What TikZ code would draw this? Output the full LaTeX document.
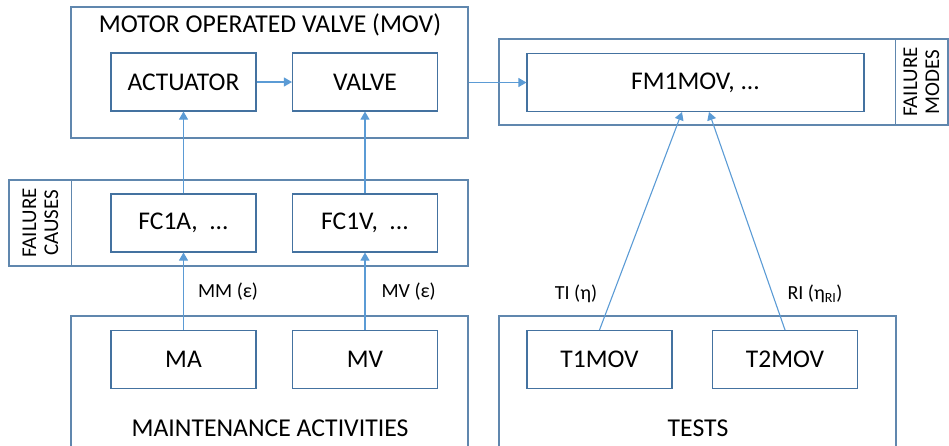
\documentclass[tikz,border=0pt]{standalone}
\usepackage{fontspec}
\setmainfont{Carlito}
\usetikzlibrary{arrows.meta,calc}
\definecolor{movframe}{RGB}{68,114,160}
\definecolor{movarrow}{RGB}{91,155,213}

\begin{document}
\begin{tikzpicture}[x=1pt,y=-1pt,
  blk/.style={draw=movframe,line width=1.1pt,minimum width=145pt,minimum height=58pt,inner sep=0pt,font=\fontsize{25.5}{28}\selectfont},
  frame/.style={draw=movframe!85,line width=1.1pt,inner sep=0pt},
  title/.style={font=\fontsize{25.7}{28}\selectfont,inner sep=0pt},
  lbl/.style={text=black,font=\fontsize{20}{22}\selectfont,inner sep=0pt},
  side/.style={font=\fontsize{21}{22}\selectfont,rotate=90,align=center,inner sep=0pt},
  link/.style={movarrow,line width=1.1pt,-{Triangle[length=8pt,width=9pt]}}]
  \clip (0,0) rectangle (949,445);
  % outer frames
  \node[frame,minimum width=397pt,minimum height=131pt] (mov) at (269.5,72.5) {};
  \node[frame,minimum width=459pt,minimum height=86pt] (fcframe) at (238.5,223) {};
  \node[frame,minimum width=449pt,minimum height=86pt] (fmframe) at (723.5,82) {};
  \node[frame,minimum width=397pt,minimum height=154pt] (maint) at (269.5,393) {};
  \node[frame,minimum width=397pt,minimum height=154pt] (tests) at (697.5,393) {};
  \draw[movframe!85,line width=1.1pt] ($(fcframe.north west)+(63,0)$) -- ($(fcframe.south west)+(63,0)$);
  \draw[movframe!85,line width=1.1pt] ($(fmframe.north east)+(-53,0)$) -- ($(fmframe.south east)+(-53,0)$);
  % frame titles
  \node[title] (movtitle) at (270,25) {MOTOR OPERATED VALVE (MOV)};
  \node[title] (mainttitle) at (270,428) {MAINTENANCE ACTIVITIES};
  \node[title] (teststitle) at (698,428) {TESTS};
  \node[side] (fcside) at (40.5,223) {FAILURE\\CAUSES};
  \node[side] (fmside) at (921.5,82) {FAILURE\\MODES};
  % blocks
  \node[blk] (act) at (183.5,82) {ACTUATOR};
  \node[blk] (valve) at (365,82) {VALVE};
  \node[blk,minimum width=337pt] (fm) at (695.5,82.5) {FM1MOV, ...};
  \node[blk] (fca) at (183.5,223) {FC1A,~ ...};
  \node[blk] (fcv) at (365,223) {FC1V,~ ...};
  \node[blk] (ma) at (183.5,359.5) {MA};
  \node[blk] (mv) at (365,359.5) {MV};
  \node[blk] (t1) at (599.5,359.5) {T1MOV};
  \node[blk] (t2) at (785,359.5) {T2MOV};
  \coordinate (fmin1) at ($(fm.south)+(-13.5,0)$);
  \coordinate (fmin2) at ($(fm.south)+(13.5,0)$);
  % connectors
  \draw[link] (act) -- (valve);
  \draw[link] (mov.east |- fm.west) -- (fm.west);
  \draw[link] (fca) -- (act);
  \draw[link] (fcv) -- (valve);
  \draw[link] (ma) -- node[lbl,anchor=west,xshift=14pt] (mmlbl) {MM (ε)} (fca);
  \draw[link] (mv) -- node[lbl,anchor=west,xshift=16pt] (mvlbl) {MV (ε)} (fcv);
  \draw[link] (t1.north) -- (fmin1);
  \draw[link] (t2.north) -- (fmin2);
  \node[lbl] (tilbl) at (576,294) {TI (η)};
  \node[lbl] (rilbl) at (815,294) {RI (η\textsubscript{RI})};
\end{tikzpicture}
\end{document}
